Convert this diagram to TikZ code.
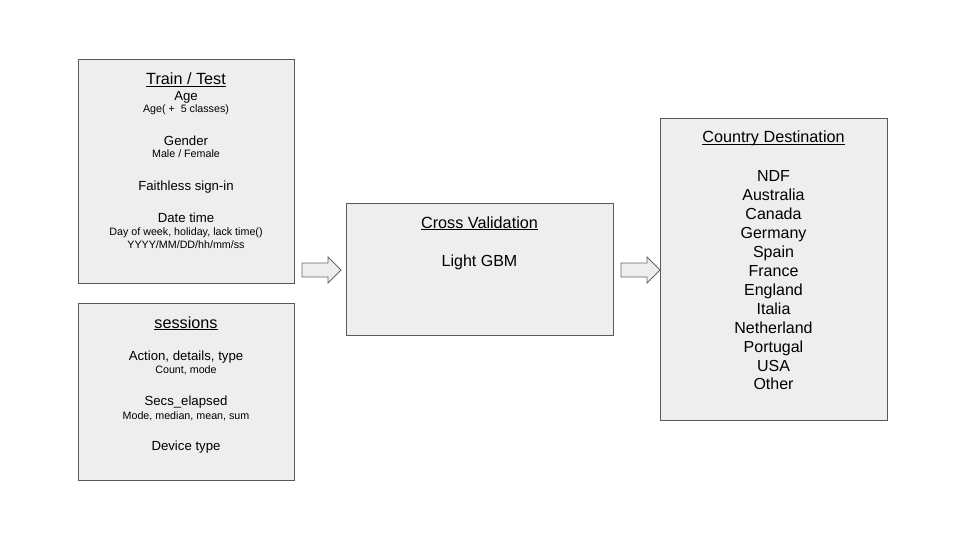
\documentclass[tikz,border=0pt]{standalone}
\usepackage{fontspec}
\setmainfont{Liberation Sans}
\newcommand{\myul}[1]{\underline{\smash{#1}}}
\begin{document}
\begin{tikzpicture}[x=1pt,y=-1pt,
  box/.style={draw=boxline,fill=boxfill,line width=0.9pt},
  blockarrow/.style={draw=arrline,fill=boxfill,line width=0.8pt,line join=miter},
  ttl/.style={anchor=base,inner sep=0pt,font=\fontsize{16.2}{19}\selectfont},
  big/.style={anchor=base,inner sep=0pt,font=\fontsize{13.2}{15}\selectfont},
  small/.style={anchor=base,inner sep=0pt,font=\fontsize{10.7}{12}\selectfont},
  cty/.style={anchor=base,inner sep=0pt,font=\fontsize{16}{19}\selectfont}]
\definecolor{boxfill}{HTML}{EEEEEE}
\definecolor{boxline}{HTML}{595959}
\definecolor{arrline}{HTML}{666666}
\useasboundingbox[fill=white] (0,0) rectangle (960,540);

% boxes
\draw[box] (78,59) rectangle (294,283);
\draw[box] (78,303) rectangle (294,480);
\draw[box] (346,203) rectangle (613,335);
\draw[box] (660,118) rectangle (887,420);

% Train / Test
\node[ttl] (t0) at (186,85) {\myul{Train / Test}};
\node[big] (t1) at (186,101) {Age};
\node[small] (t2) at (186,113) {Age( +\ \ 5 classes)};
\node[big] (t3) at (186,145.5) {Gender};
\node[small] (t4) at (186,158) {Male / Female};
\node[big] (t5) at (186,190) {Faithless sign-in};
\node[big] (t6) at (186,222) {Date time};
\node[small] (t7) at (186,235) {Day of week, holiday, lack time()};
\node[small] (t8) at (186,248) {YYYY/MM/DD/hh/mm/ss};

% sessions
\node[ttl] (s0) at (186,328) {\myul{sessions}};
\node[big] (s1) at (186,360) {Action, details, type};
\node[small] (s2) at (186,373) {Count, mode};
\node[big] (s3) at (186,405) {Secs\_elapsed};
\node[small] (s4) at (186,419) {Mode, median, mean, sum};
\node[big] (s5) at (186,450) {Device type};

% Cross validation
\node[ttl] (c0) at (479.5,228) {\myul{Cross Validation}};
\node[cty] (c1) at (479.5,266) {Light GBM};

% Country destination
\node[ttl] (d0) at (773.5,143) {\myul{Country Destination}};
\foreach \n [count=\i from 0] in {NDF,Australia,Canada,Germany,Spain,France,England,Italia,Netherland,Portugal,USA,Other}{
  \node[cty] (d\i x) at (773.5,181.5+18.95*\i) {\n};
}

% block arrows
\coordinate (a1) at (302,270);
\draw[blockarrow] (a1) ++(0,-7) -- ++(26,0) -- ++(0,-6) -- ++(13,13) -- ++(-13,13) -- ++(0,-6) -- ++(-26,0) -- cycle;
\coordinate (a2) at (621,270);
\draw[blockarrow] (a2) ++(0,-7) -- ++(26,0) -- ++(0,-6) -- ++(13,13) -- ++(-13,13) -- ++(0,-6) -- ++(-26,0) -- cycle;
\end{tikzpicture}
\end{document}
